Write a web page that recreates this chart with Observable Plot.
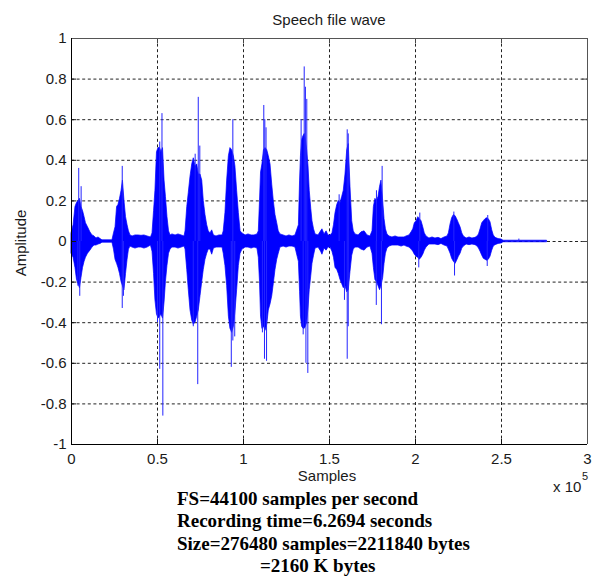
<!DOCTYPE html>
<html>
<head>
<meta charset="utf-8">
<script src="https://cdn.jsdelivr.net/npm/d3@7"></script>
<script src="https://cdn.jsdelivr.net/npm/@observablehq/plot@0.6"></script>
<style>
  html, body { margin: 0; padding: 0; background: #fff; }
  #wrap { position: relative; width: 596px; height: 578px; overflow: hidden; background: #fff; }
  .sans { font-family: "Liberation Sans", Arial, sans-serif; color: #1a1a1a; position: absolute; white-space: nowrap; }
  #title { left: 71px; width: 516px; top: 5px; text-align: center; font-size: 15px; line-height: 30px; }
  #xlabel { left: 227px; width: 200px; top: 466px; text-align: center; font-size: 15px; line-height: 20px; }
  #ylabel { left: -29px; width: 100px; top: 233px; height: 20px; text-align: center; font-size: 15px; line-height: 20px; transform: rotate(-90deg); }
  #mult { left: 553px; top: 477px; font-size: 15px; line-height: 20px; }
  #multexp { left: 582px; top: 470px; font-size: 11px; line-height: 12px; }
  #chart { position: absolute; left: 0; top: 30px; }
  #caption { position: absolute; left: 177px; top: 488px; font-family: "Liberation Serif", "Times New Roman", serif; font-weight: bold; font-size: 19px; line-height: 22.4px; color: #000; white-space: nowrap; }
</style>
</head>
<body>
<div id="wrap">
  <div id="title" class="sans">Speech file wave</div>
  <div id="chart"></div>
  <div id="ylabel" class="sans">Amplitude</div>
  <div id="xlabel" class="sans">Samples</div>
  <div id="mult" class="sans">x 10</div>
  <div id="multexp" class="sans">5</div>
  <div id="caption">
    <div>FS=44100 samples per second</div>
    <div>Recording time=6.2694 seconds</div>
    <div>Size=276480 samples=2211840 bytes</div>
    <div style="padding-left:83px">=2160 K bytes</div>
  </div>
</div>
<script>
// Sample positions in thousands of samples (axis shows x 10^5)
const envX = [
  0, 1.2, 2.3, 3.2, 4.1, 4.9, 5.8, 6.7, 7.6, 8.4, 9.6, 11.0, 12.2,
  13.4, 14.5, 15.7, 16.9, 18.0, 23.8,
  24.7, 25.6, 26.5, 27.3, 28.2, 29.1, 29.9, 30.8, 31.7, 32.6, 33.4, 34.3,
  35.5, 37.2, 39.0, 40.7, 42.4, 44.2, 46.2,
  47.1, 48.0, 48.8, 49.7, 50.6, 51.5, 52.3, 53.2, 54.1, 54.9, 55.8, 56.7, 57.6,
  58.7, 60.5, 62.2, 64.0, 65.7,
  66.3, 67.3, 68.2, 69.2, 70.2, 71.1, 72.1, 73.1, 74.0, 75.0, 76.0, 76.9, 77.9, 78.9, 79.8,
  80.8, 81.8, 82.8, 84.3, 86.0, 87.8,
  88.5, 89.5, 90.5, 91.5, 92.4, 93.4, 94.4, 95.3, 96.3, 97.3, 98.3,
  99.4, 101.2, 102.9, 104.7, 106.4, 108.1,
  108.9, 109.6, 110.2, 111.0, 111.9, 112.8, 113.8, 114.7, 115.7, 116.7, 117.6, 118.6, 119.6, 120.5,
  121.5, 123.3, 125.0, 126.7, 128.5, 130.2,
  132.2, 132.9, 133.4, 134.1, 134.9, 135.6, 136.3, 137.0, 137.8, 138.5, 139.4, 140.1, 141.0,
  141.9, 143.6, 145.1, 145.9, 147.1, 148.3, 149.4, 150.6,
  151.7, 152.6, 153.5, 154.5, 155.4, 156.4, 157.4, 158.3, 159.3, 160.3, 161.2, 162.2, 163.2, 164.1,
  165.1, 166.9, 168.6, 170.4, 172.1, 173.8,
  175.0, 175.8, 176.7, 177.6, 178.5, 179.4, 180.2, 181.2, 182.0, 182.8, 183.7,
  184.9, 186.6, 188.4, 190.1, 191.9, 193.6, 194.8,
  196.5, 197.7, 198.7, 199.6, 200.6, 201.6, 202.5, 203.5, 204.5, 205.4, 206.4,
  208.1, 209.9, 211.6, 213.4, 215.1, 216.9, 218.6,
  219.4, 220.4, 221.3, 222.3, 223.3, 224.2, 225.2, 226.2, 227.2, 228.1,
  229.7, 231.4, 233.1, 234.9, 236.1,
  236.9, 237.8, 238.8, 239.7, 240.7, 241.7, 242.6, 243.6, 244.6, 245.5,
  246.5, 248.3, 250.0, 251.2, 276.5
];
// Upper envelope of the waveform
const envHi = [
  0.04, 0.08, 0.17, 0.19, 0.2, 0.21, 0.17, 0.15, 0.12, 0.09, 0.07, 0.045, 0.03,
  0.025, 0.015, 0.02, 0.012, 0.006, 0.006,
  0.04, 0.07, 0.17, 0.18, 0.21, 0.25, 0.3, 0.2, 0.12, 0.08, 0.05, 0.03,
  0.025, 0.03, 0.03, 0.028, 0.03, 0.025, 0.02,
  0.04, 0.15, 0.25, 0.44, 0.46, 0.46, 0.44, 0.46, 0.3, 0.22, 0.12, 0.05, 0.03,
  0.035, 0.03, 0.035, 0.03, 0.025,
  0.05, 0.17, 0.24, 0.32, 0.38, 0.41, 0.37, 0.38, 0.33, 0.33, 0.3, 0.2, 0.13, 0.08, 0.05,
  0.04, 0.055, 0.03, 0.025, 0.03, 0.03,
  0.05, 0.14, 0.3, 0.42, 0.46, 0.45, 0.42, 0.37, 0.25, 0.14, 0.05,
  0.04, 0.03, 0.035, 0.03, 0.03, 0.035,
  0.05, 0.2, 0.34, 0.38, 0.45, 0.46, 0.45, 0.42, 0.38, 0.28, 0.2, 0.13, 0.09, 0.05,
  0.035, 0.03, 0.025, 0.03, 0.025, 0.03,
  0.08, 0.3, 0.42, 0.5, 0.52, 0.53, 0.5, 0.45, 0.37, 0.25, 0.16, 0.1, 0.06,
  0.035, 0.03, 0.05, 0.06, 0.035, 0.05, 0.03, 0.03,
  0.04, 0.08, 0.14, 0.18, 0.2, 0.19, 0.22, 0.25, 0.33, 0.45, 0.48, 0.27, 0.1, 0.05,
  0.035, 0.03, 0.045, 0.05, 0.03, 0.025,
  0.05, 0.17, 0.21, 0.2, 0.22, 0.27, 0.3, 0.2, 0.11, 0.06, 0.035,
  0.025, 0.02, 0.025, 0.02, 0.02, 0.02, 0.025,
  0.03, 0.045, 0.06, 0.09, 0.1, 0.12, 0.11, 0.1, 0.07, 0.04, 0.025,
  0.015, 0.02, 0.015, 0.018, 0.012, 0.02, 0.025,
  0.04, 0.085, 0.115, 0.13, 0.125, 0.11, 0.09, 0.07, 0.04, 0.025,
  0.015, 0.02, 0.015, 0.018, 0.025,
  0.035, 0.06, 0.09, 0.1, 0.11, 0.115, 0.11, 0.095, 0.055, 0.03,
  0.018, 0.012, 0.01, 0.004, 0.004
];
// Lower envelope of the waveform
const envLo = [
  -0.06, -0.08, -0.13, -0.19, -0.21, -0.23, -0.18, -0.13, -0.10, -0.08, -0.06, -0.045, -0.03,
  -0.02, -0.02, -0.015, -0.012, -0.006, -0.006,
  -0.04, -0.09, -0.11, -0.13, -0.16, -0.2, -0.22, -0.24, -0.16, -0.09, -0.04, -0.025,
  -0.03, -0.035, -0.03, -0.03, -0.035, -0.03, -0.02,
  -0.05, -0.16, -0.29, -0.36, -0.38, -0.37, -0.36, -0.38, -0.3, -0.2, -0.12, -0.06, -0.04,
  -0.03, -0.03, -0.035, -0.03, -0.025,
  -0.04, -0.14, -0.24, -0.34, -0.39, -0.41, -0.40, -0.37, -0.34, -0.27, -0.2, -0.14, -0.09, -0.06, -0.04,
  -0.04, -0.065, -0.035, -0.03, -0.03, -0.03,
  -0.06, -0.12, -0.22, -0.37, -0.43, -0.45, -0.42, -0.35, -0.24, -0.12, -0.06,
  -0.04, -0.03, -0.03, -0.035, -0.03, -0.035,
  -0.08, -0.2, -0.37, -0.43, -0.42, -0.44, -0.41, -0.34, -0.31, -0.27, -0.21, -0.14, -0.09, -0.06,
  -0.03, -0.025, -0.03, -0.025, -0.025, -0.03,
  -0.1, -0.25, -0.37, -0.42, -0.43, -0.43, -0.42, -0.4, -0.33, -0.24, -0.17, -0.11, -0.07,
  -0.035, -0.03, -0.05, -0.065, -0.035, -0.045, -0.03, -0.03,
  -0.05, -0.08, -0.13, -0.14, -0.16, -0.19, -0.21, -0.23, -0.22, -0.25, -0.24, -0.15, -0.07, -0.04,
  -0.03, -0.03, -0.04, -0.045, -0.03, -0.025,
  -0.06, -0.13, -0.19, -0.2, -0.22, -0.24, -0.22, -0.18, -0.11, -0.06, -0.035,
  -0.025, -0.02, -0.02, -0.02, -0.025, -0.02, -0.025,
  -0.03, -0.04, -0.05, -0.065, -0.075, -0.08, -0.09, -0.08, -0.065, -0.045, -0.03,
  -0.015, -0.015, -0.015, -0.018, -0.012, -0.02, -0.025,
  -0.04, -0.06, -0.085, -0.1, -0.11, -0.095, -0.075, -0.06, -0.035, -0.025,
  -0.015, -0.018, -0.015, -0.018, -0.025,
  -0.035, -0.05, -0.07, -0.085, -0.09, -0.095, -0.09, -0.075, -0.045, -0.025,
  -0.018, -0.012, -0.01, -0.004, -0.004
];
// Isolated peak samples (thin spikes) : position (k samples) and value
const spikeX = [4.2, 5.6, 4.8, 3.7, 29.5, 29.5, 30.2, 51.3, 52.6, 51.3, 53.1, 50.0,
  71.9, 73.7, 74.6, 73.4, 70.8, 93.8, 92.9, 93.8, 94.9,
  111.8, 112.4, 113.1, 112.2, 113.4, 111.0,
  133.5, 135.3, 136.0, 136.8, 136.3, 137.4, 134.7,
  155.6, 160.3, 160.9, 158.7, 160.3, 160.9,
  177.3, 180.6, 177.2, 180.2, 202.5, 201.9, 222.3, 222.7, 242.0, 241.7, 260.1];
const spikeY = [0.36, 0.27, -0.27, -0.22, 0.37, -0.33, -0.27, 0.49, 0.63, -0.63, -0.86, -0.4,
  0.43, 0.71, 0.47, -0.705, -0.42, 0.6, -0.62, -0.49, -0.47,
  0.67, 0.6, 0.56, -0.58, -0.59, -0.45,
  0.6, 0.86, 0.76, 0.7, -0.6, -0.65, -0.46,
  0.23, 0.55, 0.53, -0.29, -0.58, -0.42,
  0.25, 0.37, -0.315, -0.41, 0.14, -0.13, 0.145, -0.17, 0.128, -0.123, 0.012];

const xTicks = [0, 50, 100, 150, 200, 250, 300];
const xTickLabels = ["0", "0.5", "1", "1.5", "2", "2.5", "3"];
const yTicks = [-1, -0.8, -0.6, -0.4, -0.2, 0, 0.2, 0.4, 0.6, 0.8, 1];
const yTickLabels = ["-1", "-0.8", "-0.6", "-0.4", "-0.2", "0", "0.2", "0.4", "0.6", "0.8", "1"];

const env = envX.map((x, i) => ({x, hi: envHi[i], lo: envLo[i]}));
const spikes = spikeX.map((x, i) => ({x, y: spikeY[i]}));
const xDom = [xTicks[0], xTicks[xTicks.length - 1]];
const yDom = [yTicks[0], yTicks[yTicks.length - 1]];
const innerX = xTicks.slice(1, -1);
const innerY = yTicks.slice(1, -1);
const tickLenY = 0.025;  // inward tick length in y units (~5px)
const tickLenX = 2.9;    // inward tick length in x units (~5px)
const dash = "3,2.6";

const chart = Plot.plot({
  width: 596,
  height: 465,
  marginTop: 8,
  marginBottom: 51,
  marginLeft: 71,
  marginRight: 9,
  style: {fontFamily: "'Liberation Sans', Arial, sans-serif", fontSize: "15px", color: "#1a1a1a", background: "white", overflow: "visible"},
  x: {domain: xDom, ticks: xTicks, tickFormat: d => xTickLabels[xTicks.indexOf(d)], tickSize: 0, tickPadding: 9, label: null},
  y: {domain: yDom, ticks: yTicks, tickFormat: d => yTickLabels[yTicks.indexOf(d)], tickSize: 0, tickPadding: 5, label: null},
  marks: [
    Plot.ruleX(innerX, {stroke: "#222", strokeWidth: 1, strokeDasharray: dash}),
    Plot.ruleY(innerY, {stroke: "#222", strokeWidth: 1, strokeDasharray: dash}),
    Plot.areaY(env, {x: "x", y1: "lo", y2: "hi", fill: "#0000ff", stroke: "#0000ff", strokeWidth: 0.7, curve: "linear"}),
    Plot.ruleX(spikes, {x: "x", y1: 0, y2: "y", stroke: "#2424ff", strokeWidth: 1}),
    // inward tick marks on all four sides
    Plot.ruleX(xTicks, {y1: yDom[0], y2: yDom[0] + tickLenY, stroke: "#111"}),
    Plot.ruleX(xTicks, {y1: yDom[1] - tickLenY, y2: yDom[1], stroke: "#444"}),
    Plot.ruleY(yTicks, {x1: xDom[0], x2: xDom[0] + tickLenX, stroke: "#111"}),
    Plot.ruleY(yTicks, {x1: xDom[1] - tickLenX, x2: xDom[1], stroke: "#444"}),
    // axes box
    Plot.ruleY([yDom[1]], {stroke: "#555"}),
    Plot.ruleX([xDom[1]], {stroke: "#555"}),
    Plot.ruleY([yDom[0]], {stroke: "#000"}),
    Plot.ruleX([xDom[0]], {stroke: "#000"})
  ]
});
document.getElementById("chart").appendChild(chart);
</script>
</body>
</html>
